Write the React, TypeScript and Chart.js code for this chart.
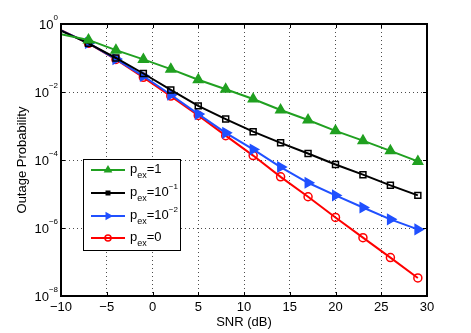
import React, { useEffect, useRef } from "react";
import { Chart, registerables } from "chart.js";

Chart.register(...registerables);

// ---- data ----
const snrDb = [-10, -7, -4, -1, 2, 5, 8, 11, 14, 17, 20, 23, 26, 29];
const pexOne = [0.5, 0.34, 0.17, 0.091, 0.047, 0.023, 0.012, 6.2e-3, 2.95e-3, 1.5e-3, 7.2e-4, 3.7e-4, 1.86e-4, 9.1e-5];
const pexTenthMinus1 = [0.64, 0.27, 0.1, 0.035, 0.0115, 3.9e-3, 1.6e-3, 6.8e-4, 3.2e-4, 1.55e-4, 7.4e-5, 3.7e-5, 1.8e-5, 9.1e-6];
const pexTenthMinus2 = [0.65, 0.275, 0.093, 0.0295, 8.3e-3, 2.24e-3, 6.3e-4, 2.04e-4, 6.2e-5, 2.14e-5, 9.1e-6, 4.0e-6, 1.8e-6, 9.1e-7];
const pexZero = [0.66, 0.27, 0.091, 0.027, 7.6e-3, 2.04e-3, 5.2e-4, 1.35e-4, 3.2e-5, 8.3e-6, 2.04e-6, 5.2e-7, 1.35e-7, 3.4e-8];

const xTickValues = [-10, -5, 0, 5, 10, 15, 20, 25, 30];
const yTickExponents = [0, -2, -4, -6, -8];
const xTitle = "SNR (dB)";
const yTitle = "Outage Probability";

const legendMain = ["1", "10", "10", "0"];
const legendSup = ["", "\u22121", "\u22122", ""];

const GREEN = "#20a020";
const BLACK = "#000000";
const BLUE = "#2050ff";
const RED = "#ff0000";
const FONT = "'Liberation Sans', Arial, Helvetica, sans-serif";

const firstHidden = (r: number) => snrDb.map((_, i) => (i === 0 ? 0 : r));

function drawMarker(ctx: CanvasRenderingContext2D, kind: string, x: number, y: number, color: string) {
  ctx.save();
  ctx.strokeStyle = color;
  ctx.fillStyle = color;
  ctx.lineWidth = 1.5;
  ctx.beginPath();
  if (kind === "tri") {
    const r = 5;
    ctx.moveTo(x, y - r);
    ctx.lineTo(x + r * 0.87, y + r * 0.5);
    ctx.lineTo(x - r * 0.87, y + r * 0.5);
    ctx.closePath();
    ctx.fill();
  } else if (kind === "triR") {
    const r = 5;
    ctx.moveTo(x + r, y);
    ctx.lineTo(x - r * 0.5, y + r * 0.87);
    ctx.lineTo(x - r * 0.5, y - r * 0.87);
    ctx.closePath();
    ctx.fill();
  } else if (kind === "sq") {
    ctx.rect(x - 2.5, y - 2.5, 5, 5);
    ctx.fill();
  } else {
    ctx.arc(x, y, 3, 0, Math.PI * 2);
    ctx.stroke();
  }
  ctx.restore();
}

const decoPlugin = {
  id: "deco",
  afterDraw(chart: any) {
    const ctx: CanvasRenderingContext2D = chart.ctx;
    const { left, right, top, bottom } = chart.chartArea;
    const xs = chart.scales.x;
    const ys = chart.scales.y;
    ctx.save();
    // tick marks (inward, all sides)
    ctx.strokeStyle = "#000";
    ctx.lineWidth = 1;
    ctx.beginPath();
    for (const v of xTickValues) {
      const px = Math.round(xs.getPixelForValue(v)) + 0.5;
      ctx.moveTo(px, bottom);
      ctx.lineTo(px, bottom - 4);
      ctx.moveTo(px, top);
      ctx.lineTo(px, top + 4);
    }
    for (const e of yTickExponents) {
      const py = Math.round(ys.getPixelForValue(Math.pow(10, e))) + 0.5;
      ctx.moveTo(left, py);
      ctx.lineTo(left + 4, py);
      ctx.moveTo(right, py);
      ctx.lineTo(right - 4, py);
    }
    ctx.stroke();
    // box
    ctx.lineWidth = 2;
    ctx.strokeRect(left, top, right - left, bottom - top);

    // x tick labels
    ctx.fillStyle = "#000";
    ctx.font = `13px ${FONT}`;
    ctx.textAlign = "center";
    ctx.textBaseline = "middle";
    for (const v of xTickValues) {
      const label = v < 0 ? "\u2212" + Math.abs(v) : String(v);
      ctx.fillText(label, xs.getPixelForValue(v), bottom + 11);
    }
    // x title
    ctx.fillText(xTitle, (left + right) / 2, bottom + 26);

    // y tick labels with superscripts
    for (const e of yTickExponents) {
      const py = ys.getPixelForValue(Math.pow(10, e));
      const sup = e < 0 ? "\u2212" + Math.abs(e) : String(e);
      ctx.font = `8px ${FONT}`;
      const supW = ctx.measureText(sup).width;
      const supX = left - 3 - supW;
      ctx.textAlign = "left";
      ctx.textBaseline = "middle";
      ctx.fillText(sup, supX, py - 6);
      ctx.font = `13px ${FONT}`;
      ctx.textAlign = "right";
      ctx.fillText("10", supX, py + 1);
    }

    // y title
    ctx.save();
    ctx.translate(22, (top + bottom) / 2);
    ctx.rotate(-Math.PI / 2);
    ctx.textAlign = "center";
    ctx.textBaseline = "middle";
    ctx.font = `13px ${FONT}`;
    ctx.fillText(yTitle, 0, 0);
    ctx.restore();

    // legend
    const lx = 83, ly = 159, lw = 97, lh = 91;
    ctx.fillStyle = "#fff";
    ctx.fillRect(lx, ly, lw, lh);
    ctx.strokeStyle = "#000";
    ctx.lineWidth = 1;
    ctx.strokeRect(lx + 0.5, ly + 0.5, lw, lh);
    const rows = [170, 193, 216, 238];
    const colors = [GREEN, BLACK, BLUE, RED];
    const kinds = ["tri", "sq", "triR", "circ"];
    rows.forEach((ry, i) => {
      ctx.strokeStyle = colors[i];
      ctx.lineWidth = 2;
      ctx.beginPath();
      ctx.moveTo(91, ry);
      ctx.lineTo(125, ry);
      ctx.stroke();
      drawMarker(ctx, kinds[i], 108, ry, colors[i]);
      ctx.fillStyle = "#000";
      ctx.textAlign = "left";
      ctx.textBaseline = "alphabetic";
      let x = 130;
      ctx.font = `13px ${FONT}`;
      ctx.fillText("p", x, ry + 3);
      x += ctx.measureText("p").width;
      ctx.font = `9px ${FONT}`;
      ctx.fillText("ex", x, ry + 8);
      x += ctx.measureText("ex").width;
      ctx.font = `13px ${FONT}`;
      const main = "=" + legendMain[i];
      ctx.fillText(main, x, ry + 3);
      x += ctx.measureText(main).width;
      if (legendSup[i]) {
        ctx.font = `8px ${FONT}`;
        ctx.fillText(legendSup[i], x, ry - 4);
      }
    });
    ctx.restore();
  },
};

export default function App() {
  const canvasRef = useRef<HTMLCanvasElement>(null);

  useEffect(() => {
    document.body.style.margin = "0";
    const canvas = canvasRef.current;
    if (!canvas) return;
    const mk = (label: string, data: number[], color: string, style: any, radius: number, rotation: number, fill: string) => ({
      label,
      data: snrDb.map((x, i) => ({ x, y: data[i] })),
      borderColor: color,
      backgroundColor: fill,
      borderWidth: 2,
      pointStyle: style,
      pointRadius: firstHidden(radius),
      pointRotation: rotation,
      pointBorderColor: color,
      pointBackgroundColor: fill,
      pointBorderWidth: 1.5,
      tension: 0,
    });
    const chart = new Chart(canvas, {
      type: "line",
      data: {
        datasets: [
          mk("pex=1", pexOne, GREEN, "triangle", 5.5, 0, GREEN),
          mk("pex=1e-1", pexTenthMinus1, BLACK, "rect", 4.2, 0, "rgba(0,0,0,0)"),
          mk("pex=1e-2", pexTenthMinus2, BLUE, "triangle", 5.5, 90, BLUE),
          mk("pex=0", pexZero, RED, "circle", 4, 0, "rgba(0,0,0,0)"),
        ],
      },
      options: {
        animation: false,
        responsive: false,
        devicePixelRatio: 1,
        layout: { padding: { left: 61, right: 44, top: 24, bottom: 37 } },
        plugins: { legend: { display: false }, tooltip: { enabled: false } },
        scales: {
          x: {
            type: "linear",
            min: -10,
            max: 30,
            ticks: { display: false, stepSize: 5 },
            afterBuildTicks: (s: any) => {
              s.ticks = xTickValues.map((v) => ({ value: v }));
            },
            afterFit: (s: any) => {
              s.height = 0;
            },
            grid: { color: "rgba(0,0,0,0.7)", drawTicks: false, lineWidth: 1 } as any,
            border: { display: false, dash: [1, 3] },
          },
          y: {
            type: "logarithmic",
            min: 1e-8,
            max: 1,
            ticks: { display: false },
            afterBuildTicks: (s: any) => {
              s.ticks = yTickExponents.map((e) => ({ value: Math.pow(10, e) }));
            },
            afterFit: (s: any) => {
              s.width = 0;
            },
            grid: { color: "rgba(0,0,0,0.7)", drawTicks: false, lineWidth: 1 } as any,
            border: { display: false, dash: [1, 3] },
          },
        },
      } as any,
      plugins: [decoPlugin],
    });
    return () => chart.destroy();
  }, []);

  return (
    <div style={{ width: 471, height: 333 }}>
      <canvas ref={canvasRef} width={471} height={333} style={{ display: "block" }} />
    </div>
  );
}
